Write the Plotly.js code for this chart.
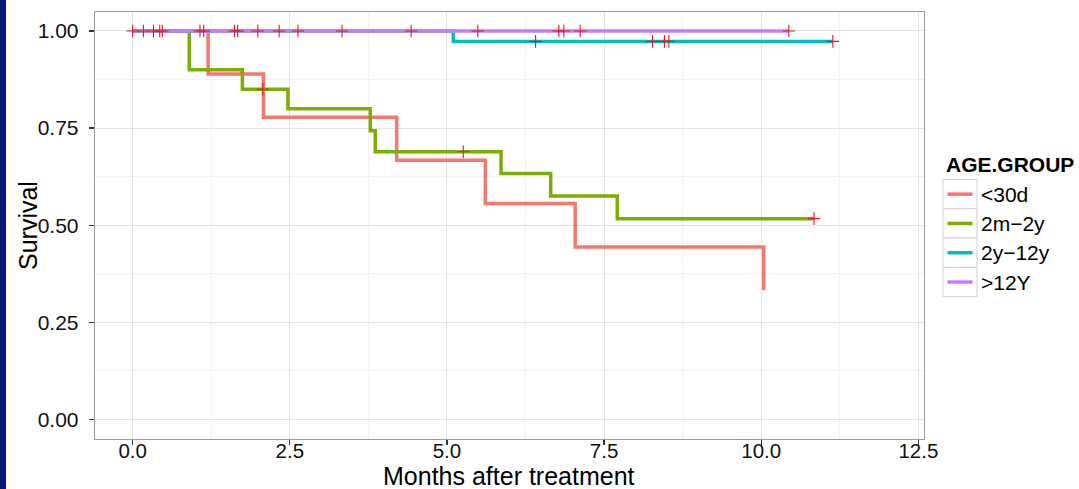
<!DOCTYPE html>
<html>
<head>
<meta charset="utf-8">
<script src="https://cdn.plot.ly/plotly-3.0.1.min.js"></script>
<style>
  html, body { margin: 0; padding: 0; background: #ffffff; }
  #wrap { position: relative; width: 1079px; height: 489px; overflow: hidden; }
  #chart { width: 1079px; height: 489px; }
  #strip { position: absolute; left: 0; top: 0; width: 6px; height: 489px; background: #0b1877; }
</style>
</head>
<body>
<div id="wrap"><div id="chart"></div><div id="strip"></div></div>
<script>
// ---- data ----
const groups = ["<30d", "2m\u22122y", "2y\u221212y", ">12Y"];
const colors = ["#F8766D", "#7CAE00", "#00BFC4", "#C77CFF"];

// Kaplan-Meier step curves: event times and survival after each time
const timeLt30d = [0, 1.20, 2.08, 4.20, 5.61, 7.04, 10.04];
const survLt30d = [1, 0.889, 0.778, 0.667, 0.556, 0.444, 0.333];

const time2m2y = [0, 0.90, 1.745, 2.47, 3.78, 3.86, 5.86, 6.65, 7.71, 10.84];
const surv2m2y = [1, 0.900, 0.850, 0.800, 0.743, 0.689, 0.633, 0.575, 0.517, 0.517];

const time2y12y = [0, 5.10, 11.14];
const surv2y12y = [1, 0.973, 0.973];

const timeGt12Y = [0, 10.44];
const survGt12Y = [1, 1];

// censoring marks (+)
const censLt30dT = [];
const censLt30dS = [];
const cens2m2yT = [2.07, 5.26, 10.84];
const cens2m2yS = [0.850, 0.689, 0.517];
const cens2y12yT = [6.41, 8.27, 8.46, 8.53, 11.14];
const cens2y12yS = [0.973, 0.973, 0.973, 0.973, 0.973];
const censGt12YT = [0.0, 0.17, 0.33, 0.43, 0.47, 1.07, 1.13, 1.62, 1.67, 1.99, 2.33, 2.63, 3.33, 4.43, 5.49, 6.78, 6.86, 7.12, 10.44];
const censGt12YS = censGt12YT.map(() => 1);

const xTickVals = [0, 2.5, 5, 7.5, 10, 12.5];
const xTickText = ["0.0", "2.5", "5.0", "7.5", "10.0", "12.5"];
const yTickVals = [0, 0.25, 0.5, 0.75, 1];
const yTickText = ["0.00", "0.25", "0.50", "0.75", "1.00"];

// ---- layout constants ----
const W = 1079, H = 489;
const M = { l: 95, r: 155, t: 12, b: 50 };
const PW = W - M.l - M.r, PH = H - M.t - M.b;
const px2x = p => (p - M.l) / PW;
const px2y = p => (H - M.b - p) / PH;

const curves = [
  [timeLt30d, survLt30d],
  [time2m2y, surv2m2y],
  [time2y12y, surv2y12y],
  [timeGt12Y, survGt12Y]
];
const cens = [
  [censLt30dT, censLt30dS],
  [cens2m2yT, cens2m2yS],
  [cens2y12yT, cens2y12yS],
  [censGt12YT, censGt12YS]
];

const FONT = "Liberation Sans, Arial, Helvetica, sans-serif";
const traces = [];
curves.forEach((c, i) => {
  traces.push({
    x: c[0], y: c[1], type: "scatter", mode: "lines", name: groups[i],
    line: { shape: "hv", color: colors[i], width: 3.5 },
    showlegend: false, hoverinfo: "x+y+name"
  });
});
cens.forEach((c, i) => {
  if (!c[0].length) return;
  traces.push({
    x: c[0], y: c[1], type: "scatter", mode: "markers", name: groups[i] + " censored",
    marker: { symbol: "cross-thin", size: 9, color: "#e8141e", line: { color: "#e8141e", width: 1.1 } },
    showlegend: false, hoverinfo: "x+y"
  });
});

// axis titles, custom ggplot-style legend
const shapes = [];
const annotations = [];
annotations.push({
  xref: "paper", yref: "paper", x: px2x(28), y: px2y(226), xanchor: "center", yanchor: "middle",
  text: "Survival", textangle: -90, showarrow: false, font: { family: FONT, size: 25, color: "#000" }
});
annotations.push({
  xref: "paper", yref: "paper", x: px2x(509), y: px2y(475.5), xanchor: "center", yanchor: "middle",
  text: "Months after treatment", showarrow: false, borderpad: 0,
  font: { family: FONT, size: 25, color: "#000" }
});
annotations.push({
  xref: "paper", yref: "paper", x: px2x(944), y: px2y(165), xanchor: "left", yanchor: "middle",
  text: "<b>AGE.GROUP</b>", showarrow: false, font: { family: FONT, size: 21, color: "#000" }
});
const boxTop = 179.5, boxH = 29.3;
groups.forEach((g, i) => {
  const t = boxTop + i * boxH, b = t + boxH, mid = (t + b) / 2;
  shapes.push({ type: "rect", xref: "paper", yref: "paper", x0: px2x(943), x1: px2x(977), y0: px2y(b), y1: px2y(t),
    line: { color: "#d0d0d0", width: 1 }, fillcolor: "#ffffff" });
  shapes.push({ type: "line", xref: "paper", yref: "paper", x0: px2x(947.5), x1: px2x(972.5), y0: px2y(mid), y1: px2y(mid),
    line: { color: colors[i], width: 3.5 } });
  annotations.push({
    xref: "paper", yref: "paper", x: px2x(979), y: px2y(mid), xanchor: "left", yanchor: "middle",
    text: g, showarrow: false, font: { family: FONT, size: 21, color: "#000" }
  });
});

const axisCommon = {
  showline: true, mirror: true, linecolor: "#9a9a9a", linewidth: 1.3,
  ticks: "outside", ticklen: 5, tickwidth: 1.3, tickcolor: "#333",
  showgrid: true, gridcolor: "#e3e3e3", gridwidth: 1, zeroline: false,
  tickfont: { family: FONT, size: 21, color: "#111" }
};

const layout = {
  width: W, height: H,
  margin: M,
  paper_bgcolor: "#ffffff", plot_bgcolor: "#ffffff",
  showlegend: false,
  font: { family: FONT },
  xaxis: Object.assign({}, axisCommon, {
    range: [-0.6, 12.59], tickmode: "array", tickvals: xTickVals, ticktext: xTickText,
    minor: { tick0: 0, dtick: 1.25, showgrid: true, gridcolor: "#f2f2f2", gridwidth: 1, ticks: "" },
    ticklabelstandoff: -12,
    tickfont: { family: FONT, size: 20.5, color: "#111" },
    automargin: false
  }),
  yaxis: Object.assign({}, axisCommon, {
    range: [-0.05, 1.0487], tickmode: "array", tickvals: yTickVals, ticktext: yTickText,
    minor: { tick0: 0, dtick: 0.125, showgrid: true, gridcolor: "#f2f2f2", gridwidth: 1, ticks: "" },
    ticklabelstandoff: 6,
    automargin: false
  }),
  shapes: shapes,
  annotations: annotations
};

Plotly.newPlot("chart", traces, layout, { displayModeBar: false, staticPlot: true });
</script>
</body>
</html>
